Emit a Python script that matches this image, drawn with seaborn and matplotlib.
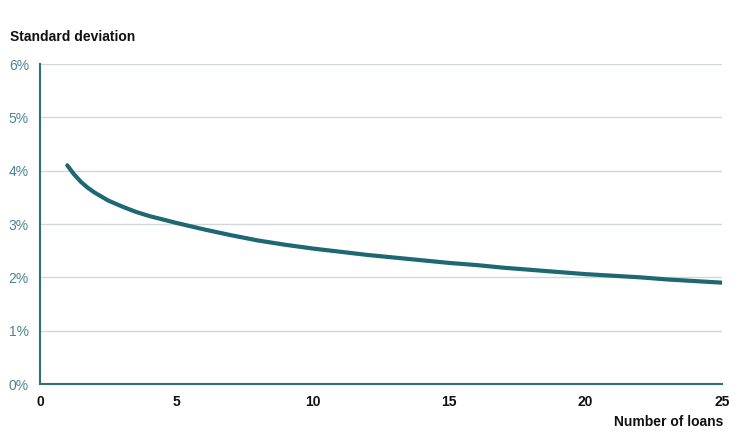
import numpy as np
import pandas as pd
import matplotlib
matplotlib.use("Agg")
import matplotlib.pyplot as plt
import seaborn as sns
from matplotlib.ticker import FuncFormatter

# values (standard deviation, %)
loans = [1, 1.25, 1.5, 1.75, 2, 2.5, 3, 3.5, 4, 5, 6, 7, 8, 9, 10, 11, 12, 13,
         14, 15, 16, 17, 18, 19, 20, 21, 22, 23, 24, 25]
std_dev = [4.10, 3.93, 3.79, 3.68, 3.59, 3.44, 3.33, 3.23, 3.15, 3.02, 2.90, 2.79, 2.69,
           2.61, 2.54, 2.48, 2.42, 2.37, 2.32, 2.27, 2.23, 2.18, 2.14, 2.10, 2.06,
           2.03, 2.00, 1.96, 1.93, 1.90]
y_ticks = [0, 1, 2, 3, 4, 5, 6]
x_ticks = [0, 5, 10, 15, 20, 25]

sns.set_theme(style="white")
plt.rcParams['font.family'] = ['Liberation Sans', 'DejaVu Sans']

teal = '#1d6873'
axis_teal = '#2f6f78'
label_teal = '#4a8593'

df = pd.DataFrame({'loans': loans, 'std': std_dev})

fig = plt.figure(figsize=(7.5, 4.36), dpi=100)
ax = fig.add_axes([40 / 750, 1 - 384 / 436, 682 / 750, 320 / 436])

sns.lineplot(data=df, x='loans', y='std', ax=ax, color=teal, linewidth=3,
             solid_capstyle='round', solid_joinstyle='round')

ax.set_xlim(0, 25)
ax.set_ylim(0, 6)
ax.set_yticks(y_ticks)
ax.set_xticks(x_ticks)
ax.yaxis.set_major_formatter(FuncFormatter(lambda v, p: f"{v:.0f}%"))
ax.grid(axis='y', color='#d2d7d8', linewidth=1)
ax.set_axisbelow(True)

for s in ['top', 'right']:
    ax.spines[s].set_visible(False)
for s in ['left', 'bottom']:
    ax.spines[s].set_color(axis_teal)
    ax.spines[s].set_linewidth(1.5)

ax.tick_params(axis='y', length=0, pad=8, labelsize=10, labelcolor=label_teal)
ax.tick_params(axis='x', length=0, pad=8, labelsize=10)
for lab in ax.get_xticklabels():
    lab.set_fontweight('bold')
    lab.set_color('#111111')

ax.set_xlabel('')
ax.set_ylabel('')

fig.text(10 / 750, 1 - 37 / 436, 'Standard deviation', fontsize=10, fontweight='bold',
         color='#111111', va='center', ha='left')
fig.text(723 / 750, 1 - 422 / 436, 'Number of loans', fontsize=10, fontweight='bold',
         color='#111111', va='center', ha='right')

fig.savefig('out.png', dpi=100)
